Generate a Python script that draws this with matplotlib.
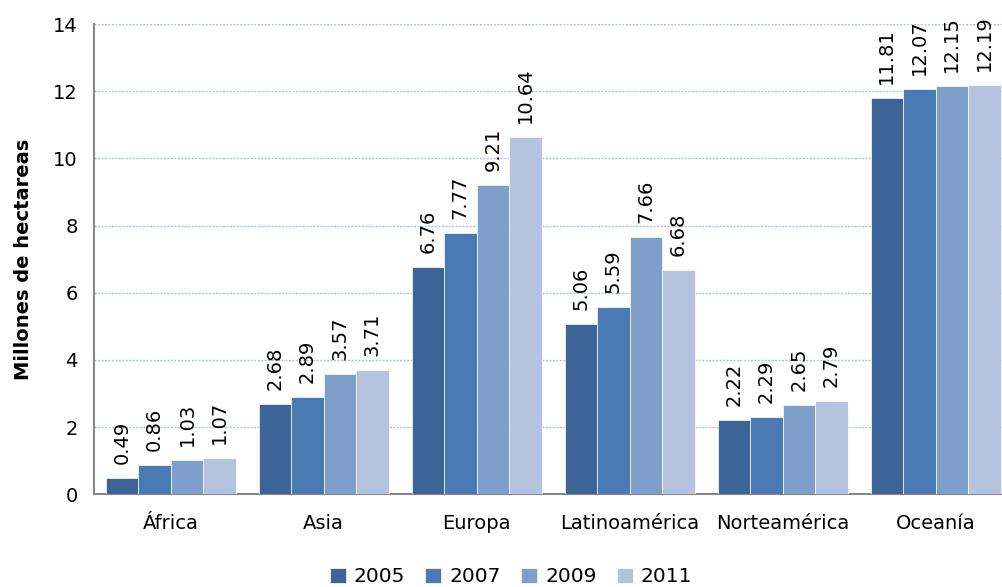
import numpy as np
import matplotlib.pyplot as plt

regiones = ["África", "Asia", "Europa", "Latinoamérica", "Norteamérica", "Oceanía"]
anios = ["2005", "2007", "2009", "2011"]
v2005 = [0.49, 2.68, 6.76, 5.06, 2.22, 11.81]
v2007 = [0.86, 2.89, 7.77, 5.59, 2.29, 12.07]
v2009 = [1.03, 3.57, 9.21, 7.66, 2.65, 12.15]
v2011 = [1.07, 3.71, 10.64, 6.68, 2.79, 12.19]
colores = ["#3c6496", "#4a7ab4", "#7f9fcb", "#b4c4df"]

plt.rcParams['font.family'] = ['DejaVu Sans']

fig = plt.figure(figsize=(10.02, 5.87), dpi=100)
ax = fig.add_axes([0.094, 0.158, 0.916, 0.801])

x = np.arange(len(regiones))
w = 0.2125
series = [v2005, v2007, v2009, v2011]
for i, (vals, c, a) in enumerate(zip(series, colores, anios)):
    pos = x + (i - 1.5) * w
    ax.bar(pos, vals, width=w, color=c, label=a, zorder=3, edgecolor="white", linewidth=0.5)
    for p, v in zip(pos, vals):
        ax.annotate(f"{v:.2f}", (p, v), xytext=(0, 10), textcoords="offset points",
                    rotation=90, ha="center", va="bottom", fontsize=14)

ax.set_xlim(-0.5, len(regiones) - 0.5)
ax.set_ylim(0, 14)
ax.set_yticks(range(0, 15, 2))
ax.set_xticks(x)
ax.set_xticklabels(regiones, fontsize=14)
ax.tick_params(axis="y", labelsize=14, length=0, pad=12)
ax.tick_params(axis="x", length=0, pad=14)
ax.yaxis.grid(True, color="#b0c2dc", linestyle=(0, (1.5, 1)), linewidth=1, zorder=0)
for s in ["top", "right"]:
    ax.spines[s].set_visible(False)
for s in ["left", "bottom"]:
    ax.spines[s].set_color("#868686")
    ax.spines[s].set_linewidth(1.5)
ax.set_ylabel("Millones de hectareas", fontsize=14, fontweight="bold", labelpad=14)

fig.legend(loc="lower center", bbox_to_anchor=(0.51, -0.03), ncol=4, frameon=False,
           fontsize=14.5, handlelength=0.8, handleheight=0.8, handletextpad=0.4,
           columnspacing=1.0)

fig.savefig("out.png", dpi=100)
